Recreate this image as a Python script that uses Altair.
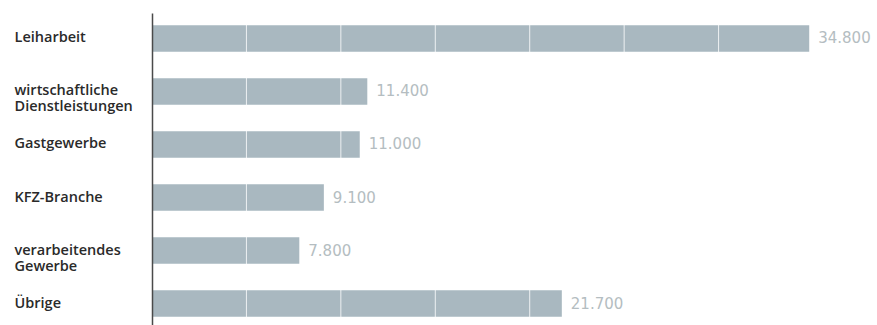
import altair as alt
import pandas as pd

categories = [
    "Leiharbeit",
    "wirtschaftliche\nDienstleistungen",
    "Gastgewerbe",
    "KFZ-Branche",
    "verarbeitendes\nGewerbe",
    "Übrige",
]
values = [34800, 11400, 11000, 9100, 7800, 21700]
grid_values = [5000, 10000, 15000, 20000, 25000, 30000]

df = pd.DataFrame({"cat": categories, "val": values})
gdf = pd.DataFrame({"g": grid_values})

W = 661
H = 316

x_scale = alt.Scale(domain=[0, 35000], nice=False)

y_enc = alt.Y(
    "cat:N",
    sort=categories,
    title=None,
    scale=alt.Scale(paddingInner=0.5, paddingOuter=0.23),
    axis=alt.Axis(
        labelExpr="split(datum.label, '\\n')",
        labelAlign="left",
        labelBaseline="middle",
        labelPadding=138,
        labelFont="Open Sans",
        labelFontWeight=600,
        labelFontSize=14.5,
        labelLineHeight=16,
        labelColor="#2a2a2a",
        ticks=False,
        domain=True,
        domainColor="#4a4a4a",
        domainWidth=1.5,
        grid=False,
        zindex=1,
    ),
)

x_enc = alt.X(
    "val:Q",
    title=None,
    scale=x_scale,
    axis=None,
)

bars = alt.Chart(df).mark_bar(color="#a9b8c0").encode(x=x_enc, y=y_enc)

grid = (
    alt.Chart(gdf)
    .mark_rule(color="#ffffff", strokeWidth=1, opacity=0.8)
    .encode(x=alt.X("g:Q", scale=x_scale, axis=None))
)

text = (
    alt.Chart(df)
    .transform_calculate(lbl="replace(format(datum.val, ','), ',', '.')")
    .mark_text(
        align="left",
        baseline="middle",
        dx=9,
        font="DejaVu Sans",
        fontSize=15,
        color="#b4bdc1",
    )
    .encode(x=alt.X("val:Q", scale=x_scale), y=alt.Y("cat:N", sort=categories), text="lbl:N")
)

chart = (
    alt.layer(bars, grid, text)
    .properties(
        width=W,
        height=H,
        autosize=alt.AutoSizeParams(type="none"),
        padding={"left": 152, "top": 13, "right": 64, "bottom": 0},
        view=alt.ViewBackground(strokeOpacity=0, strokeWidth=0),
    )
    .configure_view(stroke="transparent", strokeWidth=0, strokeOpacity=0)
    .configure(background="white")
)

chart.save("out.html", embed_options={"renderer": "svg", "actions": False})
